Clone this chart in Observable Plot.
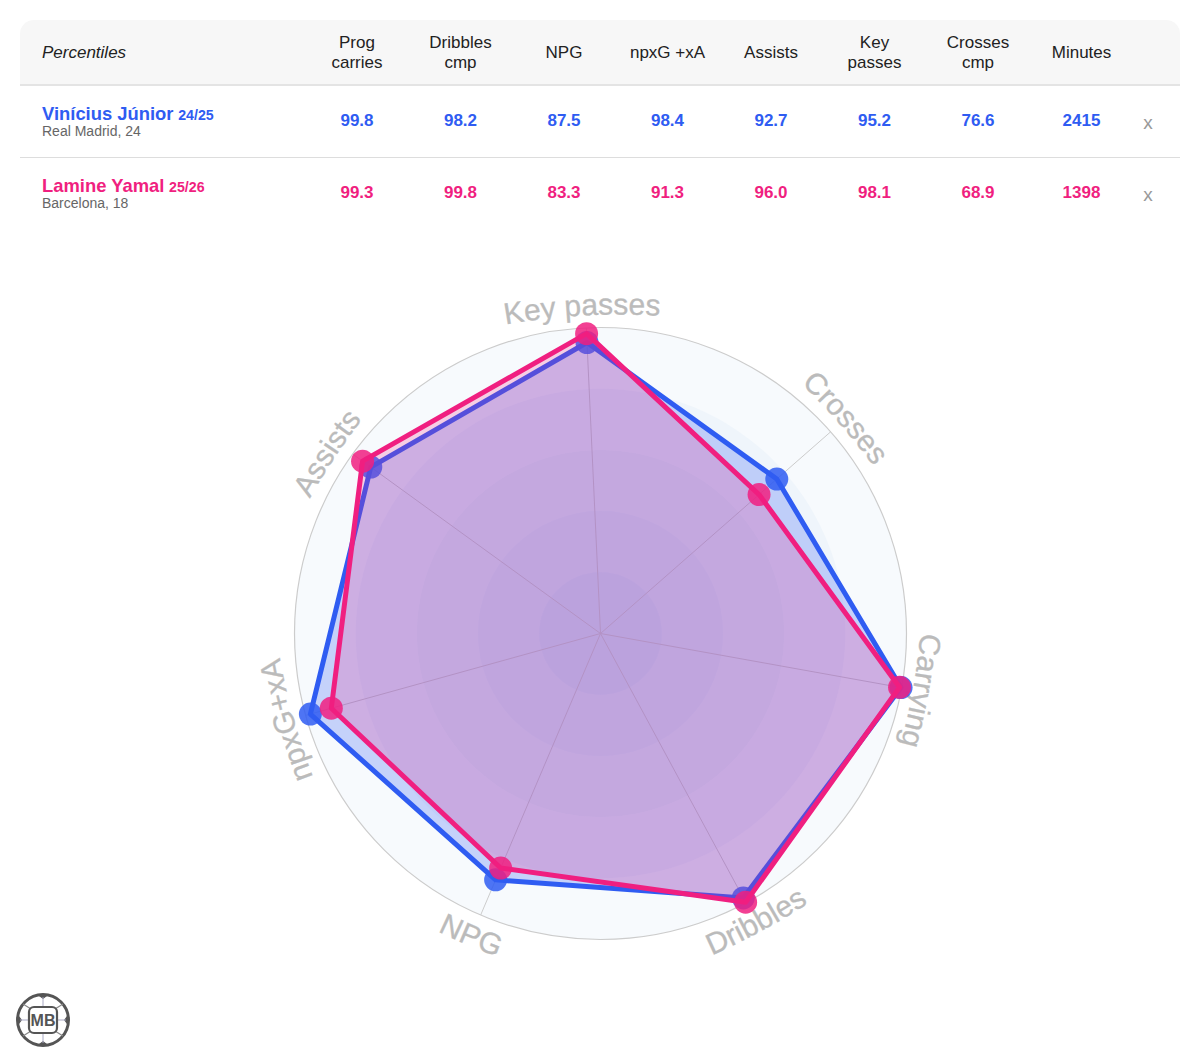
<!DOCTYPE html>
<html>
<head>
<meta charset="utf-8">
<script src="https://cdn.jsdelivr.net/npm/d3@7"></script>
<script src="https://cdn.jsdelivr.net/npm/@observablehq/plot@0.6"></script>
<style>
html,body{margin:0;padding:0;background:#fff;font-family:"Liberation Sans",Helvetica,Arial,sans-serif;}
#wrap{position:relative;width:1200px;height:1063px;overflow:hidden;}
table{position:absolute;left:20px;top:20px;width:1160px;border-collapse:collapse;table-layout:fixed;}
th,td{padding:0;text-align:center;}
thead tr{height:65px;}
thead th{background:#f7f7f7;font-weight:400;font-size:17px;line-height:20px;color:#222;border-bottom:2px solid #e4e4e4;padding-top:2px;box-sizing:border-box;}
thead th:first-child{border-top-left-radius:14px;text-align:left;padding-left:22px;font-style:italic;}
thead th:last-child{border-top-right-radius:14px;}
tbody tr{height:72px;}
tbody tr.a td{border-bottom:1px solid #ddd;}
tbody td{font-weight:700;font-size:17px;}
td.name{text-align:left;padding-left:22px;line-height:16px;padding-top:2px;}
td.name b{font-size:18.4px;}
td.name small{font-size:14.2px;font-weight:700;}
td.name span{display:block;font-size:14px;font-weight:400;color:#666;}
td.x{color:#999;font-weight:400;font-size:19px;text-align:left;padding-left:10px;padding-top:4px;}
#chart{position:absolute;left:0;top:240px;}
#logo{position:absolute;left:14px;top:991px;}
</style>
</head>
<body>
<div id="wrap">
<table id="tbl"></table>
<div id="chart"></div>
<svg id="logo" width="58" height="58" viewBox="0 0 58 58">
  <circle cx="29" cy="29" r="25.5" fill="none" stroke="#555" stroke-width="3"/>
  <path d="M23 3.5H35L29 8ZM23 54.5H35L29 50ZM3.5 23V35L8 29ZM54.5 23V35L50 29Z" fill="#555"/>
  <path d="M29 6V16M29 42V52M6 29H16M42 29H52" stroke="#a9a9c4" stroke-width="1"/>
  <path d="M17 18L9 13M41 18L49 13M17 40L9 45M41 40L49 45" stroke="#888" stroke-width="1.2"/>
  <rect x="15" y="16" width="28" height="26" rx="5" fill="#fff" stroke="#555" stroke-width="2.2"/>
  <text x="29" y="35" text-anchor="middle" font-family="Liberation Sans" font-weight="700" font-size="16" fill="#555">MB</text>
</svg>
</div>
<script>
const headerLabels = ["Prog<br>carries", "Dribbles<br>cmp", "NPG", "npxG +xA", "Assists", "Key<br>passes", "Crosses<br>cmp", "Minutes"];
const radarLabels = ["Carrying", "Dribbles", "NPG", "npxG+xA", "Assists", "Key passes", "Crosses"];
const viniValues = [99.8, 98.2, 87.5, 98.4, 92.7, 95.2, 76.6];
const yamalValues = [99.3, 99.8, 83.3, 91.3, 96.0, 98.1, 68.9];
const viniMinutes = 2415;
const yamalMinutes = 1398;
const ringLevels = [100, 80, 60, 40, 20];
const blue = "#2f5cf2";
const pink = "#f01f80";

// table
const fmt = v => v.toFixed(1);
const cols = `<colgroup><col style="width:285.25px">${headerLabels.map(()=>'<col style="width:103.5px">').join("")}<col></colgroup>`;
const row = (cls, color, name, season, sub, vals, mins) =>
  `<tr class="${cls}" style="color:${color}"><td class="name"><b>${name}</b> <small>${season}</small><span>${sub}</span></td>` +
  vals.map(v=>`<td>${fmt(v)}</td>`).join("") + `<td>${mins}</td><td class="x">x</td></tr>`;
document.getElementById("tbl").innerHTML = cols +
  `<thead><tr><th>Percentiles</th>${headerLabels.map(h=>`<th>${h}</th>`).join("")}<th></th></tr></thead><tbody>` +
  row("a", blue, "Vinícius Júnior", "24/25", "Real Madrid, 24", viniValues, viniMinutes) +
  row("b", pink, "Lamine Yamal", "25/26", "Barcelona, 18", yamalValues, yamalMinutes) + `</tbody>`;

// radar
const startDeg = 100.2, n = radarLabels.length;
const ang = i => (startDeg + i * 360 / n) * Math.PI / 180;
const pts = vals => vals.map((v, i) => ({x: v * Math.sin(ang(i)), y: v * Math.cos(ang(i))}));
const spokes = radarLabels.map((l, i) => ({x: 100 * Math.sin(ang(i)), y: 100 * Math.cos(ang(i))}));
const inward = new Set(["Dribbles", "NPG"]);
const labelShift = {"Assists": -2.5, "Crosses": 0, "Key passes": -0.5, "Carrying": 0, "Dribbles": 0, "NPG": 0, "npxG+xA": 0};

function curvedLabels(index, scales) {
  const g = d3.create("svg:g");
  const cx = scales.x(0), cy = scales.y(0), R = scales.x(100) - cx;
  radarLabels.forEach((label, i) => {
    const a = ang(i) + labelShift[label] * Math.PI / 180, inw = inward.has(label);
    const rb = inw ? R + 33 : R + 12;
    // flatter arc than the ring: same mid point, larger radius of curvature
    const rc = rb * 2;
    const mx = cx + rb * Math.sin(a), my = cy - rb * Math.cos(a);
    const ox = mx - rc * Math.sin(a), oy = my + rc * Math.cos(a);
    const span = 0.5, a0 = inw ? a + span : a - span, a1 = inw ? a - span : a + span;
    const P = t => [ox + rc * Math.sin(t), oy - rc * Math.cos(t)];
    const [x0, y0] = P(a0), [x1, y1] = P(a1);
    const id = "lab" + i;
    g.append("path").attr("id", id).attr("fill", "none")
      .attr("d", `M${x0},${y0}A${rc},${rc} 0 0 ${inw ? 0 : 1} ${x1},${y1}`);
    g.append("text").attr("font-size", 30).attr("fill", "#bbb")
      .attr("stroke", "#bbb").attr("stroke-width", 0.3)
      .attr("font-family", "Liberation Sans, Helvetica, Arial, sans-serif")
      .attr("text-anchor", "middle")
      .append("textPath").attr("href", "#" + id).attr("startOffset", "50%").text(label);
  });
  return g.node();
}

const series = (vals, color, fo) => [
  Plot.line(pts(vals), {x: "x", y: "y", curve: "linear-closed", fill: color, fillOpacity: fo, stroke: color, strokeWidth: 5, strokeLinejoin: "round"}),
  Plot.dot(pts(vals), {x: "x", y: "y", r: 11.5, fill: color, fillOpacity: 0.85, stroke: "none"})
];

const chart = Plot.plot({
  width: 1200, height: 823,
  marginLeft: 294, marginRight: 294, marginTop: 87, marginBottom: 124,
  x: {domain: [-100, 100], axis: null},
  y: {domain: [-100, 100], axis: null},
  r: {type: "linear", domain: [0, 100], range: [0, 306]},
  marks: [
    Plot.dot(ringLevels, {x: 0, y: 0, r: d => d, fill: "#6aa0e0", fillOpacity: 0.05, stroke: "none"}),
    Plot.dot([100], {x: 0, y: 0, r: d => d, fill: "none", stroke: "#ccc", strokeWidth: 1.2}),
    Plot.link(spokes, {x1: 0, y1: 0, x2: "x", y2: "y", stroke: "#ccc", strokeWidth: 1}),
    curvedLabels,
    ...series(viniValues, blue, 0.25),
    ...series(yamalValues, pink, 0.2)
  ],
  style: {background: "transparent"}
});
document.getElementById("chart").append(chart);
</script>
</body>
</html>
